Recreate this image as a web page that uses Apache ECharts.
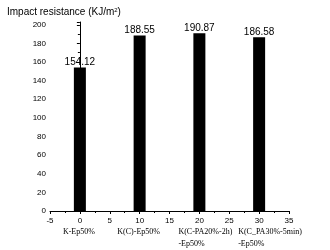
<!DOCTYPE html>
<html><head><meta charset="utf-8">
<script src="https://cdn.jsdelivr.net/npm/echarts@6/dist/echarts.min.js"></script>
<style>html,body{margin:0;padding:0;background:#fff}#c{width:330px;height:250px}</style>
</head><body><div id="c"></div>
<script>
const xPositions = [0, 10, 20, 30];
const impactValues = [154.12, 188.55, 190.87, 186.58];
const valueLabels = ['154.12', '188.55', '190.87', '186.58'];
const categoryLines1 = ['K-Ep50%', 'K(C)-Ep50%', 'K(C-PA20%-2h)', 'K(C_PA30%-5min)'];
const categoryLines2 = ['', '', '-Ep50%', '-Ep50%'];
const categoryAlign = ['center', 'center', 'left', 'left'];
const xTicks = [-5, 0, 5, 10, 15, 20, 25, 30, 35];
const yTicks = [0, 20, 40, 60, 80, 100, 120, 140, 160, 180, 200];

const chart = echarts.init(document.getElementById('c'), null, {renderer: 'canvas'});
chart.setOption({
  animation: false,
  grid: {left: 50, right: 41, top: 22, bottom: 39},
  title: {
    text: '{a|Impact resistance (KJ/m}{s|2}{a|)}',
    left: 2, top: 2,
    textStyle: {fontWeight: 'normal', rich: {
      a: {fontFamily: 'Arial, Liberation Sans', fontSize: 10, fontWeight: 'normal', color: '#000'},
      s: {fontFamily: 'Arial, Liberation Sans', fontSize: 6, fontWeight: 'normal', color: '#000', verticalAlign: 'top', padding: [0, 0, 5, 0]}
    }}
  },
  xAxis: {
    type: 'value', min: xTicks[0], max: xTicks[xTicks.length - 1], interval: 5,
    axisLine: {show: true, onZero: false, lineStyle: {color: '#000'}},
    axisTick: {show: true, length: 3, lineStyle: {color: '#000'}},
    minorTick: {show: true, splitNumber: 2, length: 2, lineStyle: {color: '#000'}},
    splitLine: {show: false},
    axisLabel: {fontFamily: 'Arial, Liberation Sans', fontSize: 8, color: '#000', margin: 6}
  },
  yAxis: {
    type: 'value', min: 0, max: 203, interval: 20,
    axisLine: {show: true, lineStyle: {color: '#000'}},
    axisTick: {show: true, length: 3, lineStyle: {color: '#000'}},
    minorTick: {show: true, splitNumber: 2, length: 2, lineStyle: {color: '#000'}},
    splitLine: {show: false},
    axisLabel: {fontFamily: 'Arial, Liberation Sans', fontSize: 8, color: '#000', margin: 4,
      formatter: v => yTicks.includes(v) ? String(v) : ''}
  },
  series: [{
    type: 'bar',
    data: xPositions.map((x, i) => [x, impactValues[i]]),
    barWidth: 12,
    itemStyle: {color: '#000'},
    label: {show: true, position: 'top', distance: 0, color: '#000',
      fontFamily: 'Arial, Liberation Sans', fontSize: 10,
      formatter: p => valueLabels[p.dataIndex]}
  }]
});

const graphics = [];
xPositions.forEach((x, i) => {
  const px = chart.convertToPixel({xAxisIndex: 0}, x);
  const anchorX = categoryAlign[i] === 'center' ? px - 1 : px - 21;
  graphics.push({type: 'text', x: anchorX, y: 228, style: {
    text: categoryLines1[i], fill: '#000', font: '8px "Liberation Serif", "Times New Roman", serif',
    textAlign: categoryAlign[i], textVerticalAlign: 'top'}});
  if (categoryLines2[i]) {
    graphics.push({type: 'text', x: anchorX, y: 240, style: {
      text: categoryLines2[i], fill: '#000', font: '8px "Liberation Serif", "Times New Roman", serif',
      textAlign: categoryAlign[i], textVerticalAlign: 'top'}});
  }
});
chart.setOption({graphic: graphics});
</script></body></html>
